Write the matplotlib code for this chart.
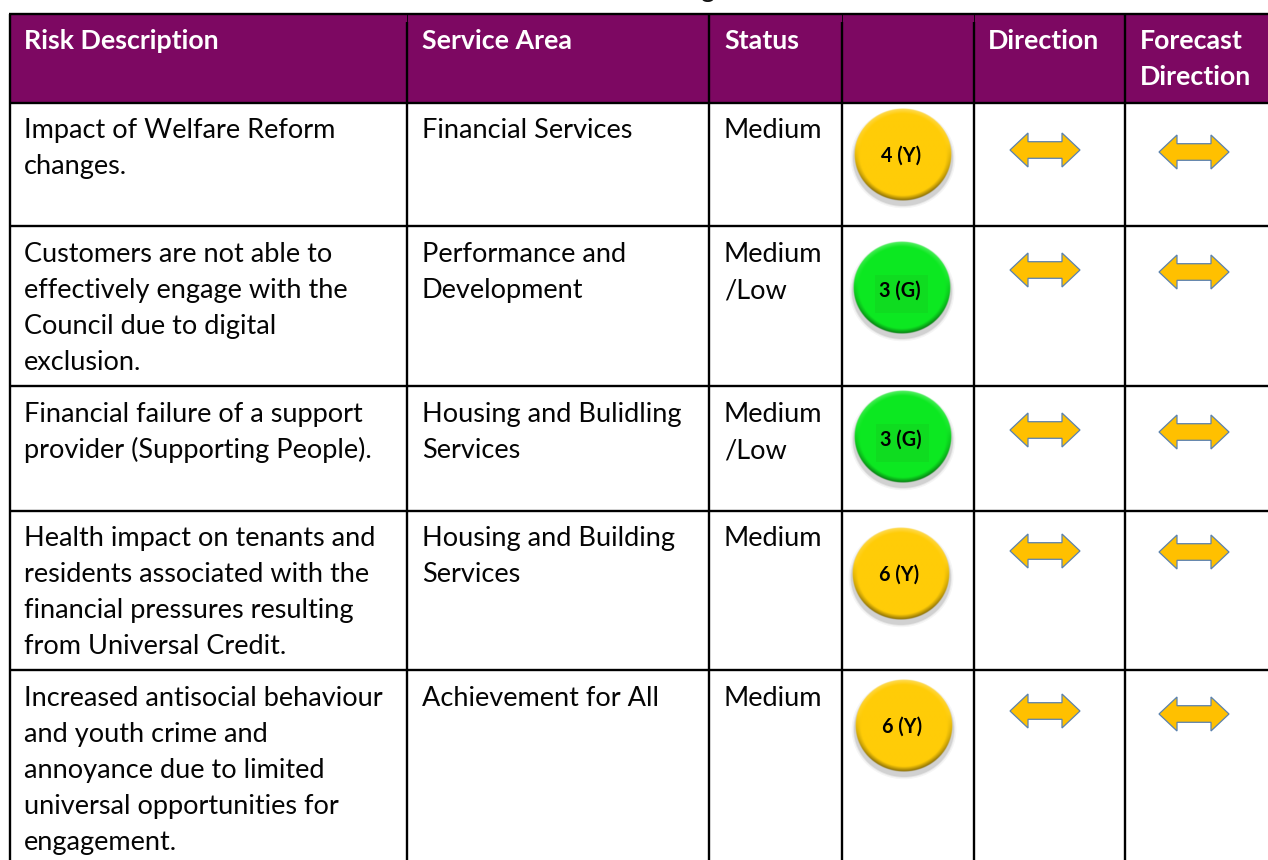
import numpy as np
import matplotlib
matplotlib.use("Agg")
import matplotlib.pyplot as plt
from matplotlib.patches import Rectangle, Polygon, Ellipse

# ---- table content ----
headers = ["Risk Description", "Service Area", "Status", "", "Direction", "Forecast\nDirection"]
risks = [
    "Impact of Welfare Reform\nchanges.",
    "Customers are not able to\neffectively engage with the\nCouncil due to digital\nexclusion.",
    "Financial failure of a support\nprovider (Supporting People).",
    "Health impact on tenants and\nresidents associated with the\nfinancial pressures resulting\nfrom Universal Credit.",
    "Increased antisocial behaviour\nand youth crime and\nannoyance due to limited\nuniversal opportunities for\nengagement.",
]
areas = [
    "Financial Services",
    "Performance and\nDevelopment",
    "Housing and Bulidling\nServices",
    "Housing and Building\nServices",
    "Achievement for All",
]
statuses = ["Medium", "Medium\n/Low", "Medium\n/Low", "Medium", "Medium"]
scores = ["4 (Y)", "3 (G)", "3 (G)", "6 (Y)", "6 (Y)"]

# ---- layout (pixels) ----
W, H = 1268, 860
col_lines = [10, 407, 709, 842, 974, 1125]
row_lines = [14, 103, 226, 386, 511, 670]
text_x = [24, 422, 724, 988, 1140]
first_base = [138, 262, 422, 546, 706]
line_gap = 36
btn_cx = [903, 902, 903, 901, 904]
btn_cy = [155, 288, 437, 574, 726]
btn_rx, btn_ry = 49, 46.5
dir_cy = [150, 270, 430, 551, 711]
fc_cy = [152, 272, 432, 552, 714]
dir_cx, fc_cx = 1045, 1194

PURPLE = "#7D0862"
FONT = "Lato"
BODY = 19.5
HEAD = 19.3

fig = plt.figure(figsize=(W / 100, H / 100), dpi=100)
ax = fig.add_axes([0, 0, 1, 1])
ax.set_xlim(0, W)
ax.set_ylim(H, 0)
ax.axis("off")

ax.add_patch(Rectangle((col_lines[0], row_lines[0]), W - col_lines[0], row_lines[1] - row_lines[0],
                       fc=PURPLE, ec="none", zorder=1))

LW = 1.7
for y in row_lines:
    ax.plot([col_lines[0] - 1, W], [y, y], color="black", lw=LW, solid_capstyle="butt", zorder=2)
for x in col_lines:
    top = 22 if x in (407, 842, 974) else row_lines[0]
    ax.plot([x, x], [top, H], color="black", lw=LW, solid_capstyle="butt", zorder=2)
    if top != row_lines[0]:
        ax.plot([x, x], [row_lines[0], top], color="black", lw=0.6, zorder=2)


def lines(x, base, txt, **kw):
    for i, s in enumerate(txt.split("\n")):
        ax.text(x, base + i * line_gap, s, family=FONT, va="baseline", ha="left", zorder=5, **kw)


head_x = [24, 422, 724, None, 988, 1140]
for hx, h in zip(head_x, headers):
    if hx is not None and h:
        lines(hx, 49, h, color="white", fontsize=HEAD, fontweight="bold")

for i in range(5):
    lines(text_x[0], first_base[i], risks[i], color="#050505", fontsize=BODY)
    lines(text_x[1], first_base[i], areas[i], color="#050505", fontsize=BODY)
    lines(text_x[2], first_base[i], statuses[i], color="#050505", fontsize=BODY)

# clipped fragment of the line above the table
ax.text(707, -3, "g", family=FONT, fontsize=BODY, ha="center", va="baseline", color="#111111", clip_on=False)


def button(cx, cy, base):
    for k, a in zip((1.07, 1.04, 1.02), (0.04, 0.06, 0.09)):
        ax.add_patch(Ellipse((cx, cy + 3.5), 2 * btn_rx * k, 2 * btn_ry * k, fc="black", alpha=a, ec="none", zorder=3))
    n = 220
    yy, xx = np.mgrid[-1.02:1.02:n * 1j, -1.02:1.02:n * 1j]
    r = np.hypot(xx, yy)
    img = np.ones((n, n, 4))
    base = np.array(base)
    bevel = np.clip((r - 0.88) / 0.12, 0, 1)
    col = np.repeat(base[None, None, :], n, 0).repeat(n, 1).astype(float)
    dark = np.clip(bevel * np.clip(yy + 0.25, 0, 1) * 0.5, 0, 1)[..., None]
    light = np.clip(bevel * np.clip(-yy, 0, 1) * 0.35, 0, 1)[..., None]
    col = col * (1 - dark)
    col = col + (1 - col) * light
    img[..., :3] = col
    img[..., 3] = np.clip((1.0 - r) / 0.02, 0, 1)
    ax.imshow(img, extent=(cx - btn_rx * 1.02, cx + btn_rx * 1.02, cy + btn_ry * 1.02, cy - btn_ry * 1.02),
              aspect="auto", interpolation="bilinear", zorder=3.5)


def arrow(cx, cy):
    hw, hh, sh, hl = 35, 17, 8.3, 18
    pts = [(cx - hw, cy), (cx - hw + hl, cy - hh), (cx - hw + hl, cy - sh), (cx + hw - hl, cy - sh),
           (cx + hw - hl, cy - hh), (cx + hw, cy), (cx + hw - hl, cy + hh), (cx + hw - hl, cy + sh),
           (cx - hw + hl, cy + sh), (cx - hw + hl, cy + hh)]
    ax.add_patch(Polygon(pts, closed=True, fc="#FFC000", ec="#5B82AE", lw=0.9, zorder=3))


for i in range(5):
    green = "G" in scores[i]
    button(btn_cx[i], btn_cy[i], (0.05, 0.91, 0.13) if green else (1.0, 0.80, 0.03))
    if green:
        ax.add_patch(Rectangle((btn_cx[i] - 27, btn_cy[i] - 13), 53, 38, fc="#0FDC20", ec="none", zorder=3.7))
    ax.text(btn_cx[i] - 2, btn_cy[i] + (9 if green else 7), scores[i], family=FONT, fontweight="bold", fontsize=14.2,
            color="black", ha="center", va="baseline", zorder=4)
    arrow(dir_cx, dir_cy[i])
    arrow(fc_cx, fc_cy[i])

ax.set_xlim(0, W)
ax.set_ylim(H, 0)
fig.savefig("out.png", dpi=100, facecolor="white")
